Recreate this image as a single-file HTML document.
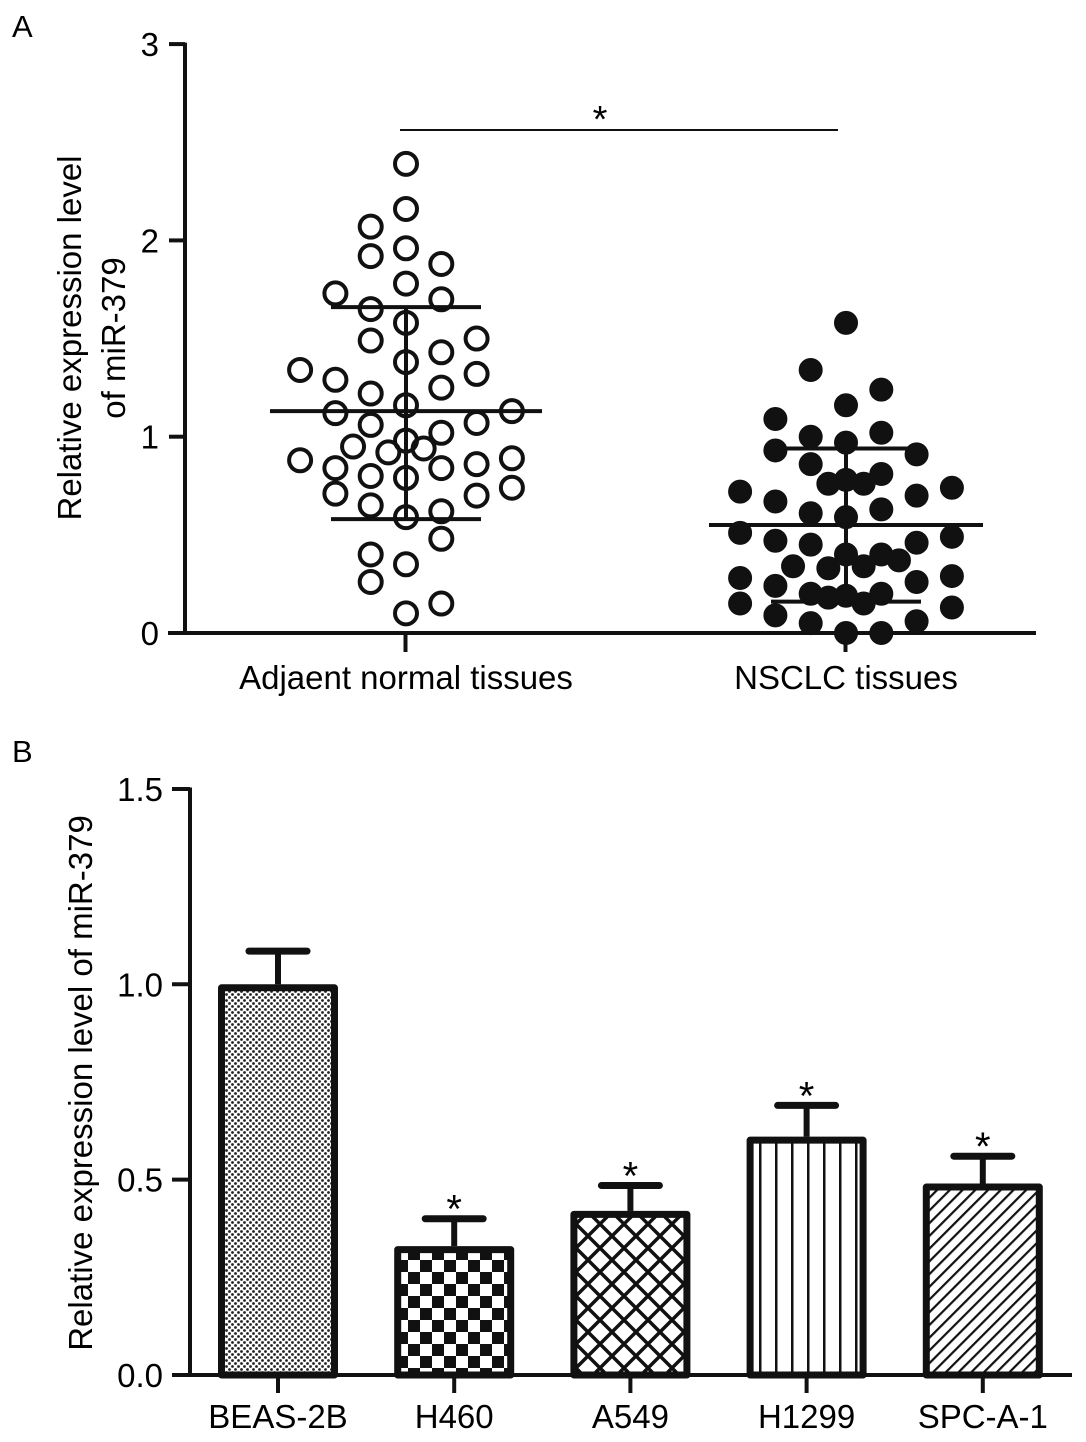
<!DOCTYPE html>
<html><head><meta charset="utf-8">
<style>
html,body{margin:0;padding:0;background:#fff;}
svg{display:block;font-family:"Liberation Sans",Arial,sans-serif;}
</style></head>
<body>
<svg id="fig" width="1086" height="1442" viewBox="0 0 1086 1442" xmlns="http://www.w3.org/2000/svg">
<defs>
<pattern id="pDots" width="6" height="6" patternUnits="userSpaceOnUse"><rect width="6" height="6" fill="#fff"/><circle cx="1.5" cy="1.5" r="1.4" fill="#222"/><circle cx="4.5" cy="4.5" r="1.4" fill="#222"/></pattern>
<pattern id="pCheck" width="24" height="24" patternUnits="userSpaceOnUse"><rect width="24" height="24" fill="#fff"/><rect x="0" y="0" width="12" height="12" fill="#111"/><rect x="12" y="12" width="12" height="12" fill="#111"/></pattern>
<pattern id="pCross" width="24" height="24" patternUnits="userSpaceOnUse"><rect width="24" height="24" fill="#fff"/><path d="M0 0L24 24M24 0L0 24" stroke="#111" stroke-width="3.5"/></pattern>
<pattern id="pVert" width="16" height="10" patternUnits="userSpaceOnUse"><rect width="16" height="10" fill="#fff"/><rect x="7" y="0" width="2.5" height="10" fill="#111"/></pattern>
<pattern id="pDiag" width="9" height="9" patternUnits="userSpaceOnUse" patternTransform="rotate(45)"><rect width="9" height="9" fill="#fff"/><rect x="0" y="0" width="2.2" height="9" fill="#111"/></pattern>
</defs>
<g id="panelA"></g>
<g id="panelB"></g>
</svg>
<script>
// ---- Panel A data ----
const groupsA = ["Adjaent normal tissues", "NSCLC tissues"];
const normalValues = [2.39,2.16,2.07,1.92,1.96,1.88,1.73,1.78,1.70,1.65,1.58,1.49,1.50,1.43,1.38,1.34,1.32,1.29,1.25,1.22,1.16,1.12,1.13,1.06,1.07,1.02,0.95,0.98,0.92,0.94,0.88,0.84,0.89,0.84,0.86,0.80,0.79,0.71,0.74,0.70,0.65,0.59,0.62,0.48,0.40,0.35,0.26,0.15,0.10];
const normalSlots = [0,0,-1,-1,0,1,-2,0,1,-1,0,-1,2,1,0,-3,2,-2,1,-1,0,-2,3,-1,2,1,-1.5,0,-0.5,0.5,-3,-2,3,1,2,-1,0,-2,3,2,-1,0,1,1,-1,0,-1,1,0];
const nsclcValues = [1.58,1.34,1.24,1.16,1.09,1.02,1.00,0.97,0.93,0.91,0.86,0.81,0.76,0.78,0.76,0.72,0.74,0.70,0.67,0.63,0.61,0.59,0.51,0.49,0.47,0.46,0.45,0.40,0.40,0.34,0.33,0.34,0.37,0.28,0.29,0.24,0.26,0.20,0.18,0.19,0.15,0.20,0.15,0.13,0.09,0.05,0.06,0.0,0.0];
const nsclcSlots = [0,-1,1,0,-2,1,-1,0,-2,2,-1,1,-0.5,0,0.5,-3,3,2,-2,1,-1,0,-3,3,-2,2,-1,0,1,-1.5,-0.5,0.5,1.5,-3,3,-2,2,-1,-0.5,0,0.5,1,-3,3,-2,-1,2,0,1];
const meanA = [1.13, 0.55];
const sdLowA = [0.58, 0.16];
const sdHighA = [1.66, 0.94];
const ticksA = [0,1,2,3];

// ---- Panel B data ----
const cellLines = ["BEAS-2B","H460","A549","H1299","SPC-A-1"];
const barValues = [1.00,0.33,0.42,0.61,0.49];
const barErrors = [0.085,0.07,0.065,0.08,0.07];
const barSig = [false,true,true,true,true];
const barFills = ["url(#pDots)","url(#pCheck)","url(#pCross)","url(#pVert)","url(#pDiag)"];
const ticksB = [0.0,0.5,1.0,1.5];
const tickLabelsB = ["0.0","0.5","1.0","1.5"];

const NS="http://www.w3.org/2000/svg";
function mk(parent, tag, attrs, text){
  const e=document.createElementNS(NS,tag);
  for(const k in attrs) e.setAttribute(k,attrs[k]);
  if(text!==undefined) e.textContent=text;
  parent.appendChild(e); return e;
}

// ===== Panel A =====
(function(){
  const g=document.getElementById('panelA');
  const y0=633, pxPer=196.3, axX=185;
  const yA=v=>y0-v*pxPer;
  const centers=[406,846], slotW=35.3;
  const lab=mk(g,'text',{x:12,y:37,'font-size':31},'A');
  
  
  const yax=mk(g,'line',{x1:axX,y1:yA(3)-1.5,x2:axX,y2:y0,stroke:'#111','stroke-width':4});
  
  
  const xax=mk(g,'line',{x1:168,y1:y0,x2:1036,y2:y0,stroke:'#111','stroke-width':4});
  
  
  ticksA.forEach(t=>{
    const tk=mk(g,'line',{x1:169,y1:yA(t),x2:axX,y2:yA(t),stroke:'#111','stroke-width':4});
    
    
    const tl=mk(g,'text',{x:159,y:yA(t)+12,'font-size':33,'text-anchor':'end'},String(t));
    
    
  });
  const tt=mk(g,'text',{transform:'translate(81,338) rotate(-90)','font-size':33,'text-anchor':'middle'},'Relative expression level');
  
  
  const tt2=mk(g,'text',{transform:'translate(125,338) rotate(-90)','font-size':33,'text-anchor':'middle'},'of miR-379');
  
  
  groupsA.forEach((name,i)=>{
    const ct=mk(g,'line',{x1:centers[i]-0.5,y1:y0,x2:centers[i]-0.5,y2:652,stroke:'#111','stroke-width':4});
    
    
    const cl=mk(g,'text',{x:centers[i],y:689,'font-size':33,'text-anchor':'middle'},name);
    
    
  });
  const series=[[normalValues,normalSlots,false],[nsclcValues,nsclcSlots,true]];
  series.forEach((s,i)=>{
    s[0].forEach((v,j)=>{
      const c=mk(g,'circle',{cx:centers[i]+s[1][j]*slotW,cy:yA(v),r:s[2]?11.5:11,
        fill:s[2]?'#111':'none',stroke:'#111','stroke-width':s[2]?1:4});
      
      
    });
  });
  const halfMean=[136,137], halfCap=75;
  groupsA.forEach((n,i)=>{
    const cx=centers[i];
    const m=mk(g,'line',{x1:cx-halfMean[i],y1:yA(meanA[i]),x2:cx+halfMean[i],y2:yA(meanA[i]),stroke:'#111','stroke-width':4});
    
    
    const v=mk(g,'line',{x1:cx,y1:yA(sdHighA[i]),x2:cx,y2:yA(sdLowA[i]),stroke:'#111','stroke-width':4});
    
    
    [sdLowA[i],sdHighA[i]].forEach(sv=>{
      const cp=mk(g,'line',{x1:cx-halfCap,y1:yA(sv),x2:cx+halfCap,y2:yA(sv),stroke:'#111','stroke-width':4});
      
      
    });
  });
  const br=mk(g,'line',{x1:400,y1:130,x2:838,y2:130,stroke:'#111','stroke-width':2});
  
  
  const st=mk(g,'text',{x:600,y:132,'font-size':38,'text-anchor':'middle'},'*');
  
  
})();

// ===== Panel B =====
(function(){
  const g=document.getElementById('panelB');
  const y0=1375, pxPer=390.7, axX=190;
  const yB=v=>y0-v*pxPer;
  const x0=278, step=176.2, bw=120;
  const xB=i=>x0+i*step;
  const lab=mk(g,'text',{x:12,y:762,'font-size':31},'B');
  
  
  const yax=mk(g,'line',{x1:axX,y1:yB(1.5)-1.5,x2:axX,y2:y0,stroke:'#111','stroke-width':4});
  
  
  ticksB.forEach((t,i)=>{
    const tk=mk(g,'line',{x1:172,y1:yB(t),x2:axX,y2:yB(t),stroke:'#111','stroke-width':4});
    
    
    const tl=mk(g,'text',{x:163,y:yB(t)+12,'font-size':33,'text-anchor':'end'},tickLabelsB[i]);
    
    
  });
  const tt=mk(g,'text',{transform:'translate(92,1083) rotate(-90)','font-size':33,'text-anchor':'middle'},'Relative expression level of miR-379');
  
  
  cellLines.forEach((name,i)=>{
    const cx=xB(i);
    const top=yB(barValues[i]);
    const eTop=yB(barValues[i]+barErrors[i]);
    const ev=mk(g,'line',{x1:cx,y1:eTop,x2:cx,y2:top,stroke:'#111','stroke-width':6});
    
    
    const ec=mk(g,'line',{x1:cx-29,y1:eTop,x2:cx+29,y2:eTop,stroke:'#111','stroke-width':7,'stroke-linecap':'round'});
    
    
    const r=mk(g,'rect',{x:cx-bw/2+3.5,y:top+3.5,width:bw-7,height:y0-top-3.5,fill:barFills[i],stroke:'#111','stroke-width':7,'stroke-linejoin':'round'});
    
    
    if(barSig[i]){
      const s=mk(g,'text',{x:cx,y:eTop+4,'font-size':40,'text-anchor':'middle'},'*');
      
      
    }
    const ct=mk(g,'line',{x1:cx,y1:y0,x2:cx,y2:1393,stroke:'#111','stroke-width':4});
    
    
    const cl=mk(g,'text',{x:cx,y:1428,'font-size':33,'text-anchor':'middle'},name);
    
    
  });
  const xax=mk(g,'line',{x1:189,y1:y0,x2:1072,y2:y0,stroke:'#111','stroke-width':4});
  
  
})();
</script>
</body></html>
